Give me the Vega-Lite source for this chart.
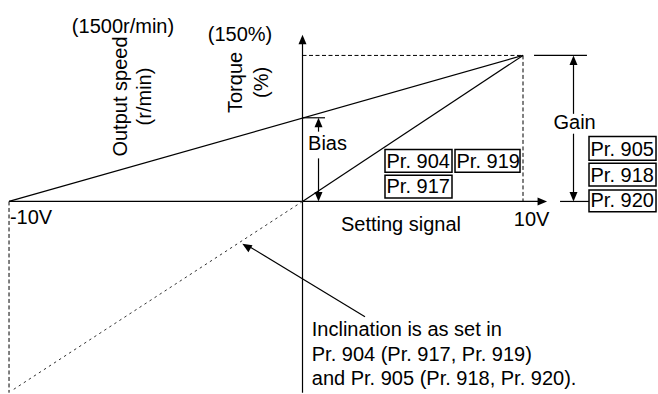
{
  "$schema": "https://vega.github.io/schema/vega-lite/v6.json",
  "width": 658,
  "height": 394,
  "autosize": {"type": "fit", "contains": "padding"},
  "padding": 0,
  "background": "white",
  "config": {
    "view": {"stroke": null},
    "text": {"font": "Liberation Sans", "fontSize": 20, "color": "black"}
  },
  "datasets": {
    "solid": [
      {"part": "output axis", "x": 0, "y": -131, "x2": 0, "y2": 108.5},
      {"part": "signal axis", "x": -13.31, "y": 0, "x2": 10.7, "y2": 0},
      {"part": "bias characteristic", "x": -13.31, "y": 0, "x2": 10, "y2": 100},
      {"part": "gain characteristic", "x": 0, "y": 0, "x2": 10, "y2": 100},
      {"part": "bias tick", "x": 0, "y": 57.3, "x2": 1.02, "y2": 57.3},
      {"part": "bias upper", "x": 0.726, "y": 51, "x2": 0.726, "y2": 47.8},
      {"part": "bias lower", "x": 0.726, "y": 29.5, "x2": 0.726, "y2": 5},
      {"part": "gain top tick", "x": 10.5, "y": 100, "x2": 12.9, "y2": 100},
      {"part": "gain bottom tick", "x": 11.68, "y": 0, "x2": 12.99, "y2": 0},
      {"part": "gain upper", "x": 12.29, "y": 94, "x2": 12.29, "y2": 60},
      {"part": "gain lower", "x": 12.29, "y": 46.4, "x2": 12.29, "y2": 5},
      {"part": "leader", "x": 2.834, "y": -79.0, "x2": -2.4, "y2": -31}
    ],
    "dashed": [
      {"part": "150% level", "x": 0, "y": 100, "x2": 10, "y2": 100},
      {"part": "10V level", "x": 10, "y": 100, "x2": 10, "y2": 0},
      {"part": "-10V level", "x": -13.31, "y": 0, "x2": -13.31, "y2": -131}
    ],
    "dotted": [
      {"part": "extension", "x": 0, "y": 0, "x2": -13.15, "y2": -129.2}
    ],
    "arrows": [
      {"x": 0, "y": 114.2, "dir": "up"},
      {"x": 11.09, "y": 0, "dir": "right"},
      {"x": 0.726, "y": 57.3, "dir": "up"},
      {"x": 0.726, "y": 0, "dir": "down"},
      {"x": 12.29, "y": 100, "dir": "up"},
      {"x": 12.29, "y": 0, "dir": "down"},
      {"x": -2.73, "y": -29.0, "dir": "upleft"}
    ],
    "params": [
      {"label": "Pr. 904", "x": 3.741, "x2": 6.78, "y": 35.59, "y2": 20.0},
      {"label": "Pr. 919", "x": 6.916, "x2": 9.864, "y": 35.59, "y2": 20.0},
      {"label": "Pr. 917", "x": 3.741, "x2": 6.78, "y": 17.97, "y2": 2.37},
      {"label": "Pr. 905", "x": 12.993, "x2": 16.032, "y": 44.41, "y2": 28.14},
      {"label": "Pr. 918", "x": 12.993, "x2": 16.032, "y": 26.1, "y2": 10.51},
      {"label": "Pr. 920", "x": 12.993, "x2": 16.032, "y": 7.8, "y2": -7.12}
    ],
    "labels_center": [
      {"label": "(1500r/min)", "x": -8.141, "y": 115.25},
      {"label": "(150%)", "x": -2.834, "y": 110.2},
      {"label": "Gain", "x": 12.34, "y": 49.36},
      {"label": "Bias", "x": 1.134, "y": 34.9},
      {"label": "10V", "x": 10.39, "y": -16.8},
      {"label": "Setting signal", "x": 4.467, "y": -20.2}
    ],
    "labels_left": [
      {"label": "-10V", "x": -13.27, "y": -15.25},
      {"label": "Inclination is as set in", "x": 0.42, "y": -92.07},
      {"label": "Pr. 904 (Pr. 917, Pr. 919)", "x": 0.42, "y": -109.0},
      {"label": "and Pr. 905 (Pr. 918, Pr. 920).", "x": 0.42, "y": -126.0}
    ],
    "labels_vertical": [
      {"label": "Output speed", "x": -8.25, "y": 71.86},
      {"label": "(r/min)", "x": -7.13, "y": 71.86},
      {"label": "Torque", "x": -3.01, "y": 81.5},
      {"label": "(%)", "x": -1.845, "y": 81.5}
    ]
  },
  "layer": [
    {
      "data": {"name": "solid"},
      "mark": {"type": "rule", "color": "black", "strokeWidth": 1.2},
      "encoding": {
        "x": {"field": "x", "type": "quantitative", "scale": {"domain": [-13.719, 16.122], "nice": false, "zero": false}, "axis": null},
        "y": {"field": "y", "type": "quantitative", "scale": {"domain": [-129.15, 137.97], "nice": false, "zero": false}, "axis": null},
        "x2": {"field": "x2"},
        "y2": {"field": "y2"}
      }
    },
    {
      "data": {"name": "dashed"},
      "mark": {"type": "rule", "color": "black", "strokeWidth": 1, "strokeDash": [4, 2.5]},
      "encoding": {
        "x": {"field": "x", "type": "quantitative", "scale": {"domain": [-13.719, 16.122], "nice": false, "zero": false}, "axis": null},
        "y": {"field": "y", "type": "quantitative", "scale": {"domain": [-129.15, 137.97], "nice": false, "zero": false}, "axis": null},
        "x2": {"field": "x2"},
        "y2": {"field": "y2"}
      }
    },
    {
      "data": {"name": "dotted"},
      "mark": {"type": "rule", "color": "#333333", "strokeWidth": 1, "strokeDash": [2.5, 3.5]},
      "encoding": {
        "x": {"field": "x", "type": "quantitative", "scale": {"domain": [-13.719, 16.122], "nice": false, "zero": false}, "axis": null},
        "y": {"field": "y", "type": "quantitative", "scale": {"domain": [-129.15, 137.97], "nice": false, "zero": false}, "axis": null},
        "x2": {"field": "x2"},
        "y2": {"field": "y2"}
      }
    },
    {
      "data": {"name": "params"},
      "mark": {"type": "rect", "fill": "white", "stroke": "black", "strokeWidth": 1.5},
      "encoding": {
        "x": {"field": "x", "type": "quantitative", "scale": {"domain": [-13.719, 16.122], "nice": false, "zero": false}, "axis": null},
        "y": {"field": "y", "type": "quantitative", "scale": {"domain": [-129.15, 137.97], "nice": false, "zero": false}, "axis": null},
        "x2": {"field": "x2"},
        "y2": {"field": "y2"}
      }
    },
    {
      "data": {"name": "params"},
      "mark": {"type": "text", "align": "left", "baseline": "alphabetic", "dx": 1.5, "dy": -4.5},
      "encoding": {
        "x": {"field": "x", "type": "quantitative", "scale": {"domain": [-13.719, 16.122], "nice": false, "zero": false}, "axis": null},
        "y": {"field": "y2", "type": "quantitative", "scale": {"domain": [-129.15, 137.97], "nice": false, "zero": false}, "axis": null},
        "text": {"field": "label"}
      }
    },
    {
      "data": {"name": "labels_center"},
      "mark": {"type": "text", "align": "center", "baseline": "alphabetic"},
      "encoding": {
        "x": {"field": "x", "type": "quantitative", "scale": {"domain": [-13.719, 16.122], "nice": false, "zero": false}, "axis": null},
        "y": {"field": "y", "type": "quantitative", "scale": {"domain": [-129.15, 137.97], "nice": false, "zero": false}, "axis": null},
        "text": {"field": "label"}
      }
    },
    {
      "data": {"name": "labels_left"},
      "mark": {"type": "text", "align": "left", "baseline": "alphabetic"},
      "encoding": {
        "x": {"field": "x", "type": "quantitative", "scale": {"domain": [-13.719, 16.122], "nice": false, "zero": false}, "axis": null},
        "y": {"field": "y", "type": "quantitative", "scale": {"domain": [-129.15, 137.97], "nice": false, "zero": false}, "axis": null},
        "text": {"field": "label"}
      }
    },
    {
      "data": {"name": "labels_vertical"},
      "mark": {"type": "text", "align": "center", "baseline": "middle", "angle": 270},
      "encoding": {
        "x": {"field": "x", "type": "quantitative", "scale": {"domain": [-13.719, 16.122], "nice": false, "zero": false}, "axis": null},
        "y": {"field": "y", "type": "quantitative", "scale": {"domain": [-129.15, 137.97], "nice": false, "zero": false}, "axis": null},
        "text": {"field": "label"}
      }
    },
    {
      "data": {"name": "arrows"},
      "mark": {"type": "point", "filled": true, "color": "black", "opacity": 1, "strokeWidth": 0, "size": 361},
      "encoding": {
        "x": {"field": "x", "type": "quantitative", "scale": {"domain": [-13.719, 16.122], "nice": false, "zero": false}, "axis": null},
        "y": {"field": "y", "type": "quantitative", "scale": {"domain": [-129.15, 137.97], "nice": false, "zero": false}, "axis": null},
        "shape": {
          "field": "dir",
          "type": "nominal",
          "legend": null,
          "scale": {
            "domain": ["up", "down", "right", "upleft"],
            "range": ["M0,0L-0.42,1L0.42,1Z", "M0,0L-0.42,-1L0.42,-1Z", "M0,0L-1,-0.42L-1,0.42Z", "M0,0L1.073,0.161L0.641,0.881Z"]
          }
        }
      }
    }
  ]
}
